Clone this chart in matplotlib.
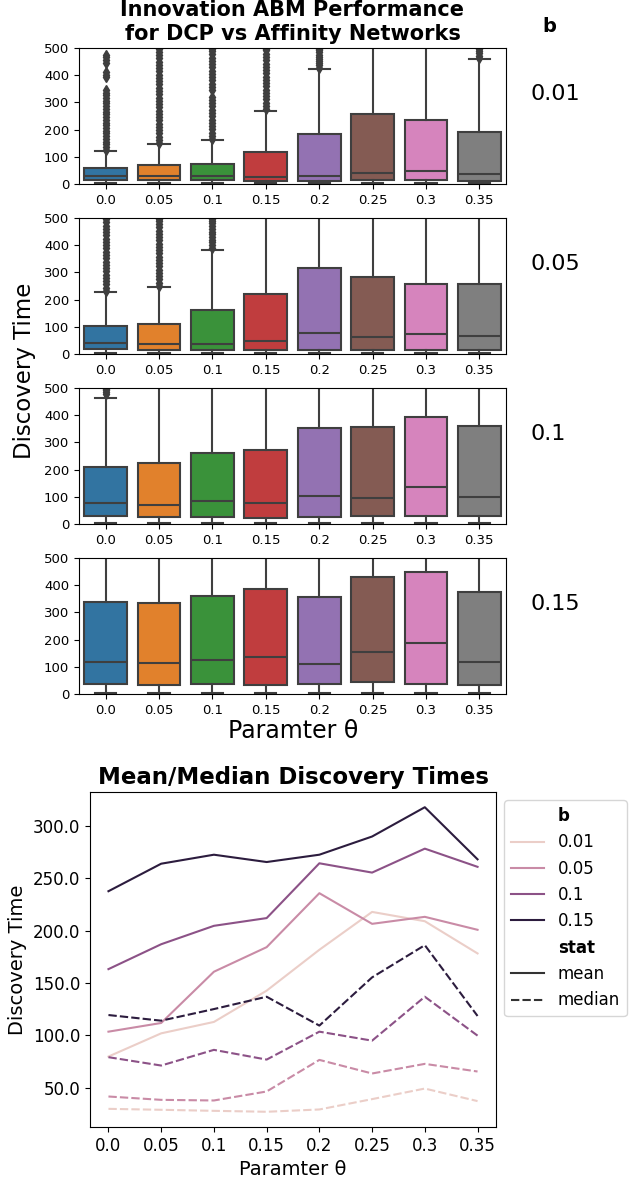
import numpy as np
import matplotlib
matplotlib.use("Agg")  # headless
import matplotlib.pyplot as plt
from matplotlib.lines import Line2D
from matplotlib.ticker import FormatStrFormatter

# --- data ---
theta = [0.0, 0.05, 0.1, 0.15, 0.2, 0.25, 0.3, 0.35]
theta_labels = ["0.0", "0.05", "0.1", "0.15", "0.2", "0.25", "0.3", "0.35"]
b_labels = ["0.01", "0.05", "0.1", "0.15"]

# b = 0.01
median_b001 = [29.6, 28.7, 27.7, 26.8, 29.0, 38.9, 49.0, 37.0]
mean_b001 = [79.6, 101.8, 112.7, 142.6, 181.7, 217.9, 209.0, 178.2]
q1_b001 = [16, 16, 15, 12, 12, 15, 15, 12]
q3_b001 = [59, 71, 73, 116, 184, 258, 236, 192]
whislo_b001 = [4, 3, 3, 3, 3, 3, 3, 3]
whishi_b001 = [120, 146, 160, 270, 422, 640, 590, 458]
fliers_b001 = [
    [126, 136, 146, 156, 166, 176, 186, 196, 206, 216, 226, 236, 246, 256, 266, 276,
     286, 296, 306, 316, 326, 336, 346, 392, 402, 412, 446, 456, 466, 476],
    [150, 162, 174, 186, 198, 210, 222, 234, 246, 258, 270, 282, 294, 306, 318, 330,
     342, 354, 366, 378, 390, 402, 414, 426, 438, 450, 462, 474, 486, 498],
    [165, 177, 189, 201, 213, 225, 237, 249, 261, 273, 285, 297, 309, 321, 345, 357,
     369, 381, 393, 405, 417, 429, 441, 453, 465, 477, 489, 498],
    [275, 287, 299, 311, 323, 335, 347, 359, 371, 383, 395, 407, 419, 431, 443, 455,
     467, 479, 491, 498],
    [428, 436, 444, 452, 460, 468, 476, 484, 492, 498],
    [],
    [],
    [464, 472, 480, 488, 496],
]

# b = 0.05
median_b005 = [41.4, 38.2, 37.6, 46.2, 76.4, 63.4, 72.6, 65.3]
mean_b005 = [103.4, 111.7, 160.7, 184.2, 235.8, 206.5, 213.2, 200.8]
q1_b005 = [20, 14, 14, 14, 16, 14, 16, 14]
q3_b005 = [103, 109, 163, 221, 316, 284, 259, 256]
whislo_b005 = [4, 4, 3, 3, 3, 3, 3, 3]
whishi_b005 = [227, 245, 384, 530, 760, 690, 620, 610]
fliers_b005 = [
    [232, 244, 256, 268, 280, 292, 304, 316, 328, 340, 352, 364, 376, 388, 400, 412,
     424, 436, 448, 460, 472, 484, 496],
    [250, 262, 274, 286, 298, 310, 322, 334, 346, 358, 370, 382, 394, 406, 418, 430,
     442, 454, 466, 478, 490, 498],
    [390, 400, 410, 420, 430, 440, 450, 460, 470, 480, 490, 498],
    [], [], [], [], [],
]

# b = 0.1
median_b01 = [79.0, 71.0, 86.0, 76.7, 103.4, 94.8, 136.8, 99.6]
mean_b01 = [163.2, 187.0, 204.6, 212.0, 264.4, 255.5, 278.4, 261.0]
q1_b01 = [31, 27, 27, 21, 26, 29, 31, 31]
q3_b01 = [208, 226, 262, 272, 354, 357, 394, 361]
whislo_b01 = [4, 4, 3, 3, 3, 3, 3, 4]
whishi_b01 = [465, 525, 615, 640, 840, 850, 940, 860]
fliers_b01 = [[478, 486, 494, 498], [], [], [], [], [], [], []]

# b = 0.15
median_b015 = [119.3, 113.9, 125.0, 136.8, 109.2, 155.3, 186.1, 118.4]
mean_b015 = [237.7, 264.0, 272.6, 265.6, 272.6, 290.0, 318.0, 268.2]
q1_b015 = [36, 32, 36, 34, 37, 44, 38, 34]
q3_b015 = [338, 335, 359, 385, 355, 430, 447, 374]
whislo_b015 = [3, 3, 3, 3, 3, 3, 5, 3]
whishi_b015 = [780, 790, 840, 910, 830, 1010, 1060, 880]
fliers_b015 = [[], [], [], [], [], [], [], []]

box_colors = ["#3274a1", "#e1812c", "#3a923a", "#c03d3e",
              "#9372b2", "#845b53", "#d684bd", "#7f7f7f"]
line_colors = ["#ebcec8", "#c98ba6", "#8c5287", "#2c1c3e"]
edge = "#3f3f3f"

W, H = 632, 1186
fig = plt.figure(figsize=(W / 100, H / 100), dpi=100)


def px_axes(left, top, right, bottom):
    return fig.add_axes([left / W, 1 - bottom / H, (right - left) / W, (bottom - top) / H])


panels = [
    (median_b001, q1_b001, q3_b001, whislo_b001, whishi_b001, fliers_b001),
    (median_b005, q1_b005, q3_b005, whislo_b005, whishi_b005, fliers_b005),
    (median_b01, q1_b01, q3_b01, whislo_b01, whishi_b01, fliers_b01),
    (median_b015, q1_b015, q3_b015, whislo_b015, whishi_b015, fliers_b015),
]
tops = [48, 218, 388, 558]
box_axes = []
for k, (med, q1, q3, wlo, whi, fl) in enumerate(panels):
    ax = px_axes(79, tops[k], 506, tops[k] + 136)
    stats = []
    for i in range(len(theta)):
        stats.append({"med": med[i], "q1": q1[i], "q3": q3[i],
                      "whislo": wlo[i], "whishi": whi[i], "fliers": fl[i]})
    art = ax.bxp(stats, positions=range(len(theta)), widths=0.8, patch_artist=True,
                 boxprops=dict(edgecolor=edge, linewidth=1.5),
                 medianprops=dict(color=edge, linewidth=1.5),
                 whiskerprops=dict(color=edge, linewidth=1.5),
                 capprops=dict(color=edge, linewidth=1.5),
                 flierprops=dict(marker="d", markersize=5, markerfacecolor=edge,
                                 markeredgecolor=edge, linestyle="none"))
    for patch, c in zip(art["boxes"], box_colors):
        patch.set_facecolor(c)
    ax.set_xlim(-0.5, len(theta) - 0.5)
    ax.set_ylim(0, 500)
    ax.set_yticks([0, 100, 200, 300, 400, 500])
    ax.set_xticks(range(len(theta)))
    ax.set_xticklabels(theta_labels)
    ax.tick_params(labelsize=9.5)
    box_axes.append(ax)
    fig.text(530 / W, 1 - (tops[k] + 46) / H, b_labels[k], fontsize=16,
             ha="left", va="center")

box_axes[0].set_title("Innovation ABM Performance\nfor DCP vs Affinity Networks",
                      fontsize=15, fontweight="bold")
fig.text(549 / W, 1 - 27 / H, "b", fontsize=14, fontweight="bold", ha="center", va="center")
fig.text(25 / W, 1 - 371 / H, "Discovery Time", fontsize=16.5, rotation=90,
         ha="center", va="center")
fig.text(293 / W, 1 - 731 / H, "Paramter θ", fontsize=17, ha="center", va="center")

# --- mean / median lines ---
ax = px_axes(90, 792, 496, 1127)
means = [mean_b001, mean_b005, mean_b01, mean_b015]
medians = [median_b001, median_b005, median_b01, median_b015]
for c, m, md in zip(line_colors, means, medians):
    ax.plot(theta, m, color=c, linewidth=1.5)
    ax.plot(theta, md, color=c, linewidth=1.5, dashes=[4, 1.5])
ax.set_xticks(theta)
ax.set_xticklabels(theta_labels)
ax.set_yticks([50, 100, 150, 200, 250, 300])
ax.yaxis.set_major_formatter(FormatStrFormatter("%.1f"))
ax.tick_params(labelsize=12)
ax.set_xlabel("Paramter θ", fontsize=14)
ax.set_ylabel("Discovery Time", fontsize=14)
ax.set_title("Mean/Median Discovery Times", fontsize=16.5, fontweight="bold")

blank = Line2D([], [], color="none")
handles = [blank] + [Line2D([], [], color=c, linewidth=1.5) for c in line_colors]
handles += [blank,
            Line2D([], [], color="#333333", linewidth=1.5),
            Line2D([], [], color="#333333", linewidth=1.5, dashes=[4, 1.5])]
labels = ["b"] + b_labels + ["stat", "mean", "median"]
leg = ax.legend(handles, labels, loc="upper left", bbox_to_anchor=(1, 1), fontsize=12)
for t in leg.get_texts():
    if t.get_text() in ("b", "stat"):
        t.set_fontweight("bold")

fig.savefig("out.png", dpi=100)
